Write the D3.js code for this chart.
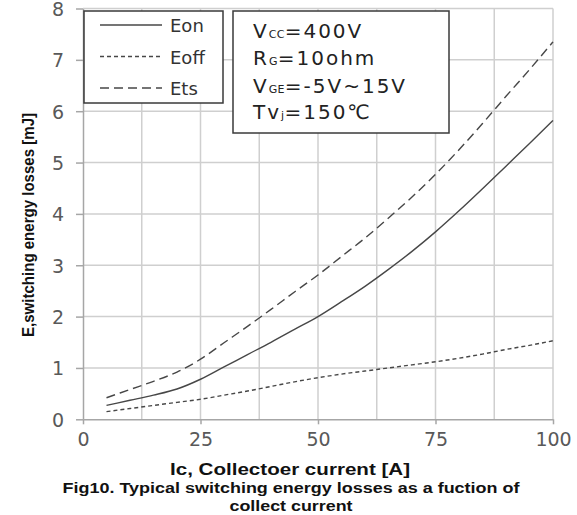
<!DOCTYPE html>
<html>
<head>
<meta charset="utf-8">
<script src="https://cdn.jsdelivr.net/npm/d3@7"></script>
<style>
  html, body { margin: 0; padding: 0; background: #fff; }
  svg { display: block; }
</style>
</head>
<body>
<svg id="chart" width="577" height="515"></svg>
<script>
// Collector current (A)
const current = [5, 10, 15, 20, 25, 30, 35, 40, 45, 50, 55, 60, 65, 70, 75, 80, 85, 90, 95, 100];
// Switching energies (mJ)
const eon  = [0.27, 0.37, 0.47, 0.59, 0.78, 1.02, 1.26, 1.50, 1.75, 2.00, 2.29, 2.59, 2.92, 3.27, 3.65, 4.06, 4.49, 4.93, 5.37, 5.82];
const eoff = [0.15, 0.21, 0.27, 0.33, 0.39, 0.47, 0.55, 0.64, 0.73, 0.81, 0.88, 0.94, 1.00, 1.06, 1.12, 1.19, 1.27, 1.36, 1.44, 1.53];
const ets  = [0.42, 0.58, 0.74, 0.92, 1.17, 1.49, 1.81, 2.14, 2.48, 2.81, 3.17, 3.53, 3.92, 4.33, 4.77, 5.25, 5.76, 6.29, 6.81, 7.35];

const seriesNames = ["Eon", "Eoff", "Ets"];
const xTicks = [0, 25, 50, 75, 100];
const xGrid = [12.5, 25, 37.5, 50, 62.5, 75, 87.5, 100];
const yTicks = [0, 1, 2, 3, 4, 5, 6, 7, 8];

const svg = d3.select("#chart");
const x = d3.scaleLinear().domain([0, 100]).range([83, 553]);
const y = d3.scaleLinear().domain([0, 8]).range([419.3, 8.5]);

const gridColor = "#cfcfcf";

// grid
svg.append("g").selectAll("line").data(xGrid).join("line")
  .attr("x1", d => x(d)).attr("x2", d => x(d))
  .attr("y1", y(8)).attr("y2", y(0))
  .attr("stroke", gridColor).attr("stroke-width", 1.5);
svg.append("g").selectAll("line").data(yTicks.slice(1)).join("line")
  .attr("x1", x(0)).attr("x2", x(100))
  .attr("y1", d => y(d)).attr("y2", d => y(d))
  .attr("stroke", gridColor).attr("stroke-width", 1.5);

// axes
const yAxis = svg.append("g").attr("transform", `translate(${x(0)},0)`)
  .call(d3.axisLeft(y).tickValues(yTicks).tickSize(7).tickPadding(12).tickSizeOuter(0));
const xAxis = svg.append("g").attr("transform", `translate(0,${y(0)})`)
  .call(d3.axisBottom(x).tickValues(xTicks).tickSize(5).tickPadding(8).tickSizeOuter(0));
[xAxis, yAxis].forEach(a => {
  a.select(".domain").attr("stroke", "#a6a6a6").attr("stroke-width", 1.5);
  a.selectAll(".tick line").attr("stroke", "#a6a6a6").attr("stroke-width", 1.5);
  a.selectAll(".tick text").attr("fill", "#595959")
    .style("font-family", "'DejaVu Sans', sans-serif").style("font-size", "19px");
});
yAxis.selectAll(".tick text").attr("dy", "0.36em");

// curves
const styles = {
  Eon:  { data: eon,  dash: null },
  Eoff: { data: eoff, dash: "4,3" },
  Ets:  { data: ets,  dash: "9,5" }
};
const line = d3.line()
  .x((d, i) => x(current[i]))
  .y(d => y(d))
  .curve(d3.curveMonotoneX);
seriesNames.forEach(name => {
  svg.append("path")
    .datum(styles[name].data)
    .attr("d", line)
    .attr("fill", "none")
    .attr("stroke", "#474747")
    .attr("stroke-width", 1.4)
    .attr("stroke-dasharray", styles[name].dash);
});

// legend
const legend = svg.append("g");
legend.append("rect").attr("x", 84).attr("y", 11).attr("width", 139).attr("height", 92)
  .attr("fill", "#fff").attr("stroke", "#3a3a3a").attr("stroke-width", 1.5);
const legendY = [25, 56.5, 88];
seriesNames.forEach((name, i) => {
  legend.append("line").attr("x1", 100).attr("x2", 162)
    .attr("y1", legendY[i]).attr("y2", legendY[i])
    .attr("stroke", "#474747").attr("stroke-width", 1.4)
    .attr("stroke-dasharray", styles[name].dash);
  legend.append("text").attr("x", 170).attr("y", legendY[i] + 7)
    .attr("fill", "#333").style("font-family", "'DejaVu Sans', sans-serif")
    .style("font-size", "18px").text(name);
});

// test conditions box
const cond = svg.append("g");
cond.append("rect").attr("x", 233).attr("y", 11).attr("width", 216).attr("height", 122)
  .attr("fill", "#fff").attr("stroke", "#3a3a3a").attr("stroke-width", 1.5);
const condLines = [
  [["V", 0], ["CC", 1], ["=400V", 0]],
  [["R", 0], ["G", 1], ["=10ohm", 0]],
  [["V", 0], ["GE", 1], ["=-5V~15V", 0]],
  [["Tv", 0], ["j", 1], ["=150℃", 0]]
];
const condBase = [37.5, 65, 92.5, 119];
condLines.forEach((parts, i) => {
  const t = cond.append("text").attr("x", 253).attr("y", condBase[i])
    .attr("fill", "#222").style("font-family", "'DejaVu Sans', sans-serif")
    .style("font-size", "20px").style("letter-spacing", "2px");
  parts.forEach(([s, sub]) => {
    t.append("tspan").style("font-size", sub ? "11px" : "20px")
      .style("letter-spacing", sub ? "0.3px" : "2px").text(s);
  });
});

// axis titles
svg.append("text")
  .attr("transform", "translate(33.5,225) rotate(-90)")
  .attr("text-anchor", "middle")
  .attr("fill", "#111")
  .attr("textLength", 224).attr("lengthAdjust", "spacingAndGlyphs")
  .style("font-family", "'Liberation Sans Narrow', 'Liberation Sans', sans-serif")
  .style("font-size", "16px").style("font-weight", "bold")
  .text("E,switching energy losses [mJ]");

const titleFont = "'Liberation Sans', Arial, sans-serif";
svg.append("text").attr("x", 290).attr("y", 474.5).attr("text-anchor", "middle")
  .attr("fill", "#111").attr("textLength", 240).attr("lengthAdjust", "spacingAndGlyphs")
  .style("font-family", titleFont).style("font-size", "16px").style("font-weight", "bold")
  .text("Ic, Collectoer current [A]");
svg.append("text").attr("x", 291).attr("y", 493).attr("text-anchor", "middle")
  .attr("fill", "#111").attr("textLength", 457).attr("lengthAdjust", "spacingAndGlyphs")
  .style("font-family", titleFont).style("font-size", "14.5px").style("font-weight", "bold")
  .text("Fig10. Typical switching energy losses as a fuction of");
svg.append("text").attr("x", 291).attr("y", 511).attr("text-anchor", "middle")
  .attr("fill", "#111").attr("textLength", 123).attr("lengthAdjust", "spacingAndGlyphs")
  .style("font-family", titleFont).style("font-size", "14.5px").style("font-weight", "bold")
  .text("collect current");
</script>
</body>
</html>
